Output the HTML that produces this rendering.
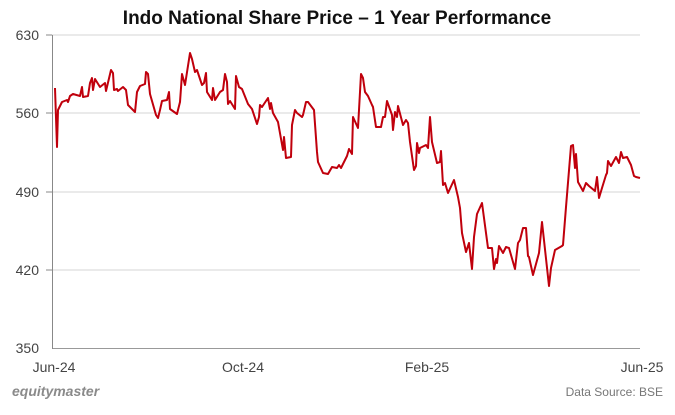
<!DOCTYPE html>
<html><head><style>
body{margin:0;background:#fff;width:675px;height:410px;overflow:hidden;font-family:"Liberation Sans",sans-serif}
</style></head><body>
<svg width="675" height="410" xmlns="http://www.w3.org/2000/svg" font-family="Liberation Sans, sans-serif">
<text x="337" y="24" text-anchor="middle" font-size="19" font-weight="bold" fill="#111">Indo National Share Price – 1 Year Performance</text>
<g stroke="#d6d6d6" stroke-width="1">
<line x1="52" y1="35" x2="640" y2="35"/>
<line x1="52" y1="113" x2="640" y2="113"/>
<line x1="52" y1="192" x2="640" y2="192"/>
<line x1="52" y1="270" x2="640" y2="270"/>
</g>
<line x1="52" y1="348.5" x2="640" y2="348.5" stroke="#999"/>
<line x1="52.5" y1="35" x2="52.5" y2="349" stroke="#888"/>
<g stroke="#888"><line x1="46" y1="35" x2="52" y2="35"/><line x1="46" y1="113" x2="52" y2="113"/><line x1="46" y1="192" x2="52" y2="192"/><line x1="46" y1="270" x2="52" y2="270"/></g>
<g font-size="14" fill="#444" text-anchor="end">
<text x="39" y="40">630</text><text x="39" y="118">560</text><text x="39" y="197">490</text><text x="39" y="275">420</text><text x="39" y="353">350</text>
</g>
<g font-size="14" fill="#444" text-anchor="middle">
<text x="54" y="372">Jun-24</text><text x="243" y="372">Oct-24</text><text x="427" y="372">Feb-25</text><text x="642" y="372">Jun-25</text>
</g>
<text x="12" y="396" font-size="14" font-weight="bold" font-style="italic" fill="#8a8a8a">equitymaster</text>
<text x="663" y="396" font-size="12" fill="#777" text-anchor="end">Data Source: BSE</text>
<polyline fill="none" stroke="#c0000c" stroke-width="2" stroke-linejoin="round" points="55,88 57,147 58,110 62,102 67,100 68,102 70,96 73,94 80,96 82,87 83,97 88,96 90,83 92,78 93,90 95,79 100,87 105,83 106,91 111,70 113,73 114,90 117,89 118,91 123,87 126,90 128,105 135,112 137,92 140,86 145,84 146,72 148,74 150,94 156,115 158,118 160,110 162,101 167,100 169,92 170,109 177,114 180,102 182,74 185,85 190,53 192,59 195,72 197,70 202,85 204,83 206,73 207,92 212,100 213,88 215,100 220,92 223,90 225,74 227,82 228,104 230,101 235,109 236,76 239,87 242,89 248,104 252,109 257,124 259,117 260,105 262,107 268,98 270,109 271,103 273,113 278,122 283,150 284,137 286,158 291,157 292,125 295,110 297,113 302,117 303,115 306,102 308,102 314,110 317,152 318,162 323,173 328,174 332,167 337,168 339,165 341,168 347,156 349,149 352,154 353,117 358,128 361,74 363,78 365,92 368,96 372,105 373,107 376,127 381,127 383,117 385,117 387,101 392,115 393,130 395,112 397,117 398,106 403,125 406,120 408,123 410,142 414,170 416,166 417,143 419,153 420,148 426,145 428,148 430,117 432,142 437,163 440,162 441,151 443,185 445,183 448,193 454,180 458,197 460,208 462,233 466,252 469,243 472,269 474,237 477,214 482,203 488,248 492,248 494,269 496,259 497,263 499,246 503,253 506,247 509,248 515,269 518,243 520,240 523,228 526,228 528,256 529,257 533,275 539,253 542,222 549,286 551,268 555,250 562,246 563,245 566,207 571,146 573,145 575,168 576,154 578,182 583,191 586,183 589,186 595,191 597,177 599,198 602,188 606,175 607,173 608,161 611,166 616,157 619,163 621,152 623,158 627,157 631,165 634,176 636,177 640,178"/>
</svg>
</body></html>
